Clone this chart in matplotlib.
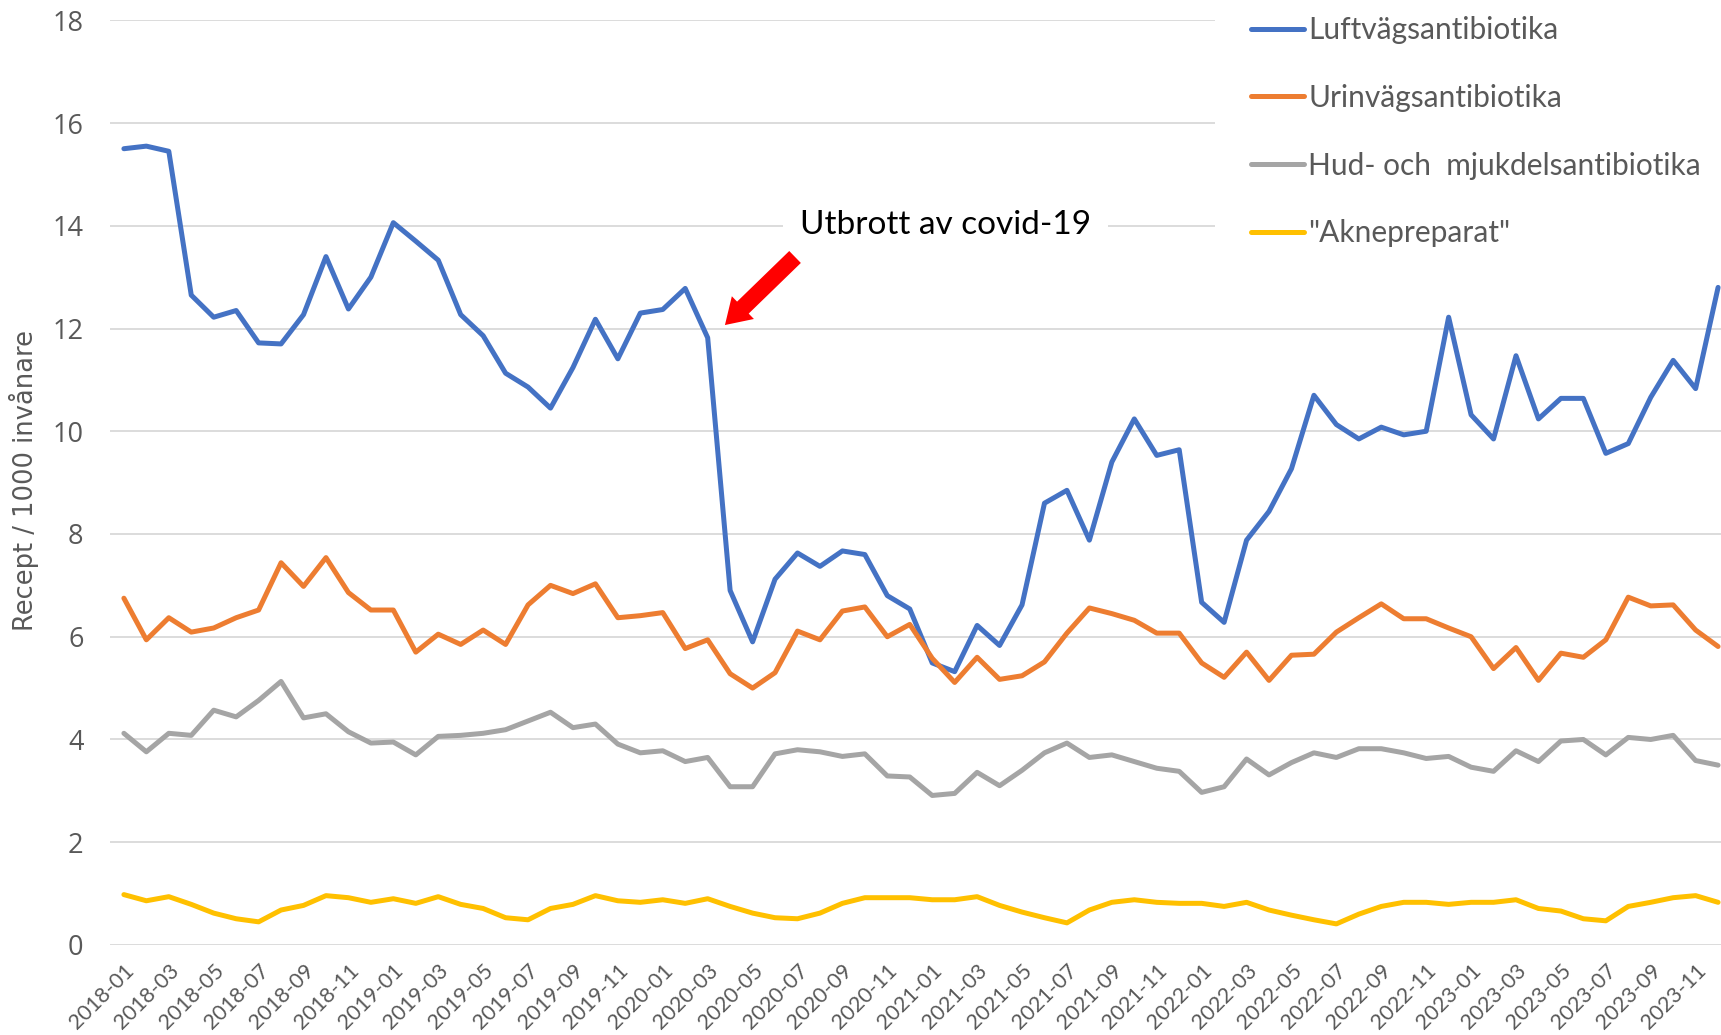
import numpy as np
import matplotlib
matplotlib.use("Agg")
import matplotlib.pyplot as plt

# månader 2018-01 .. 2023-12
months = [f"{y}-{m:02d}" for y in range(2018, 2024) for m in range(1, 13)]

luftvag = [15.50, 15.55, 15.45, 12.65, 12.22, 12.35, 11.72, 11.70, 12.27, 13.40, 12.38, 13.00,
           14.06, 13.70, 13.33, 12.27, 11.86, 11.13, 10.86, 10.45, 11.24, 12.18, 11.41, 12.30,
           12.37, 12.78, 11.82, 6.90, 5.90, 7.12, 7.63, 7.37, 7.67, 7.60, 6.80, 6.54,
           5.49, 5.32, 6.22, 5.83, 6.62, 8.60, 8.85, 7.88, 9.40, 10.24, 9.53, 9.64,
           6.67, 6.28, 7.88, 8.44, 9.27, 10.70, 10.13, 9.85, 10.08, 9.93, 10.00, 12.22,
           10.32, 9.85, 11.47, 10.24, 10.64, 10.64, 9.57, 9.76, 10.66, 11.38, 10.83, 12.80]

urinvag = [6.75, 5.94, 6.37, 6.09, 6.17, 6.37, 6.52, 7.44, 6.98, 7.54, 6.86, 6.52,
           6.52, 5.70, 6.05, 5.85, 6.13, 5.85, 6.62, 7.00, 6.84, 7.03, 6.37, 6.41,
           6.47, 5.77, 5.94, 5.28, 5.00, 5.30, 6.11, 5.94, 6.50, 6.58, 6.00, 6.24,
           5.58, 5.11, 5.60, 5.17, 5.24, 5.51, 6.07, 6.56, 6.45, 6.32, 6.07, 6.07,
           5.49, 5.21, 5.70, 5.15, 5.64, 5.66, 6.09, 6.37, 6.64, 6.35, 6.35, 6.17,
           6.00, 5.38, 5.79, 5.15, 5.68, 5.60, 5.94, 6.77, 6.60, 6.62, 6.13, 5.81]

hud = [4.12, 3.76, 4.12, 4.08, 4.57, 4.44, 4.76, 5.13, 4.42, 4.50, 4.15, 3.93,
       3.95, 3.70, 4.06, 4.08, 4.12, 4.19, 4.36, 4.53, 4.23, 4.30, 3.91, 3.74,
       3.78, 3.57, 3.65, 3.08, 3.08, 3.72, 3.80, 3.76, 3.67, 3.72, 3.29, 3.27,
       2.91, 2.95, 3.36, 3.10, 3.40, 3.74, 3.93, 3.65, 3.70, 3.57, 3.44, 3.38,
       2.97, 3.08, 3.62, 3.31, 3.55, 3.74, 3.65, 3.82, 3.82, 3.74, 3.63, 3.67,
       3.46, 3.38, 3.78, 3.57, 3.97, 4.00, 3.70, 4.04, 4.00, 4.08, 3.59, 3.50]

akne = [0.98, 0.86, 0.94, 0.79, 0.62, 0.51, 0.45, 0.68, 0.77, 0.96, 0.92, 0.83,
        0.90, 0.81, 0.94, 0.79, 0.71, 0.53, 0.49, 0.71, 0.79, 0.96, 0.86, 0.83,
        0.88, 0.81, 0.90, 0.75, 0.62, 0.53, 0.51, 0.62, 0.81, 0.92, 0.92, 0.92,
        0.88, 0.88, 0.94, 0.77, 0.64, 0.53, 0.43, 0.68, 0.83, 0.88, 0.83, 0.81,
        0.81, 0.75, 0.83, 0.68, 0.58, 0.49, 0.41, 0.60, 0.75, 0.83, 0.83, 0.79,
        0.83, 0.83, 0.88, 0.71, 0.66, 0.51, 0.47, 0.75, 0.83, 0.92, 0.96, 0.83]

series = [
    ("Luftvägsantibiotika", luftvag, "#4472C4"),
    ("Urinvägsantibiotika", urinvag, "#ED7D31"),
    ("Hud- och  mjukdelsantibiotika", hud, "#A5A5A5"),
    ('"Aknepreparat"', akne, "#FFC000"),
]

GREY = "#595959"

fig = plt.figure(figsize=(17.21, 10.35), dpi=100)
ax = fig.add_axes([0.0639, 0.087, 0.9361, 0.8934])

x = np.arange(len(months))
for name, vals, col in series:
    ax.plot(x, vals, color=col, lw=3.6, label=name,
            solid_joinstyle="round", solid_capstyle="round")

ax.set_xlim(-0.62, 71.13)
ax.set_ylim(0, 18)
ax.set_yticks(range(0, 19, 2))
ax.set_xticks(x[::2])
ax.set_xticklabels(months[::2], rotation=45, ha="right",
                   rotation_mode="anchor", fontsize=15.5, color=GREY,
                   family=["Lato", "DejaVu Sans"])
for lab in ax.get_yticklabels():
    lab.set_fontsize(19.5)
    lab.set_color(GREY)
    lab.set_family(["Open Sans", "DejaVu Sans"])
ax.tick_params(length=0)
ax.tick_params(axis="x", pad=11)
ax.tick_params(axis="y", pad=19)
ax.grid(axis="y", color="#D9D9D9", lw=1.3)
ax.set_axisbelow(True)
for s in ax.spines.values():
    s.set_visible(False)

fig.text(24 / 1721, 0.536, "Recept / 1000 invånare", rotation=90,
         ha="center", va="center", fontsize=18.5, color=GREY,
         family=["Liberation Sans Narrow", "DejaVu Sans"])

# covid-annotering
ax.text(30.1, 14.02, "Utbrott av covid-19", fontsize=24, color="black",
        ha="left", va="center", family=["Lato", "DejaVu Sans"],
        bbox=dict(fc="white", ec="none", pad=12))
ax.annotate("", xy=(26.68, 12.03), xytext=(29.98, 13.43),
            arrowprops=dict(arrowstyle="simple,head_length=1.5,head_width=1.9,tail_width=1.0",
                            mutation_scale=12, fc="#FF0000", ec="none"))

leg = ax.legend(loc="upper left", bbox_to_anchor=(1215 / 1721, 1.019),
                bbox_transform=fig.transFigure, frameon=True, fancybox=False,
                facecolor="white", edgecolor="none", framealpha=1,
                fontsize=21.5, handlelength=1.77, handletextpad=0.15,
                labelspacing=1.33, borderpad=1.2, borderaxespad=0)
for t in leg.get_texts():
    t.set_color(GREY)
    t.set_family(["Lato", "DejaVu Sans"])
for h in leg.get_lines():
    h.set_linewidth(3.6)

fig.savefig("out.png", dpi=100)
